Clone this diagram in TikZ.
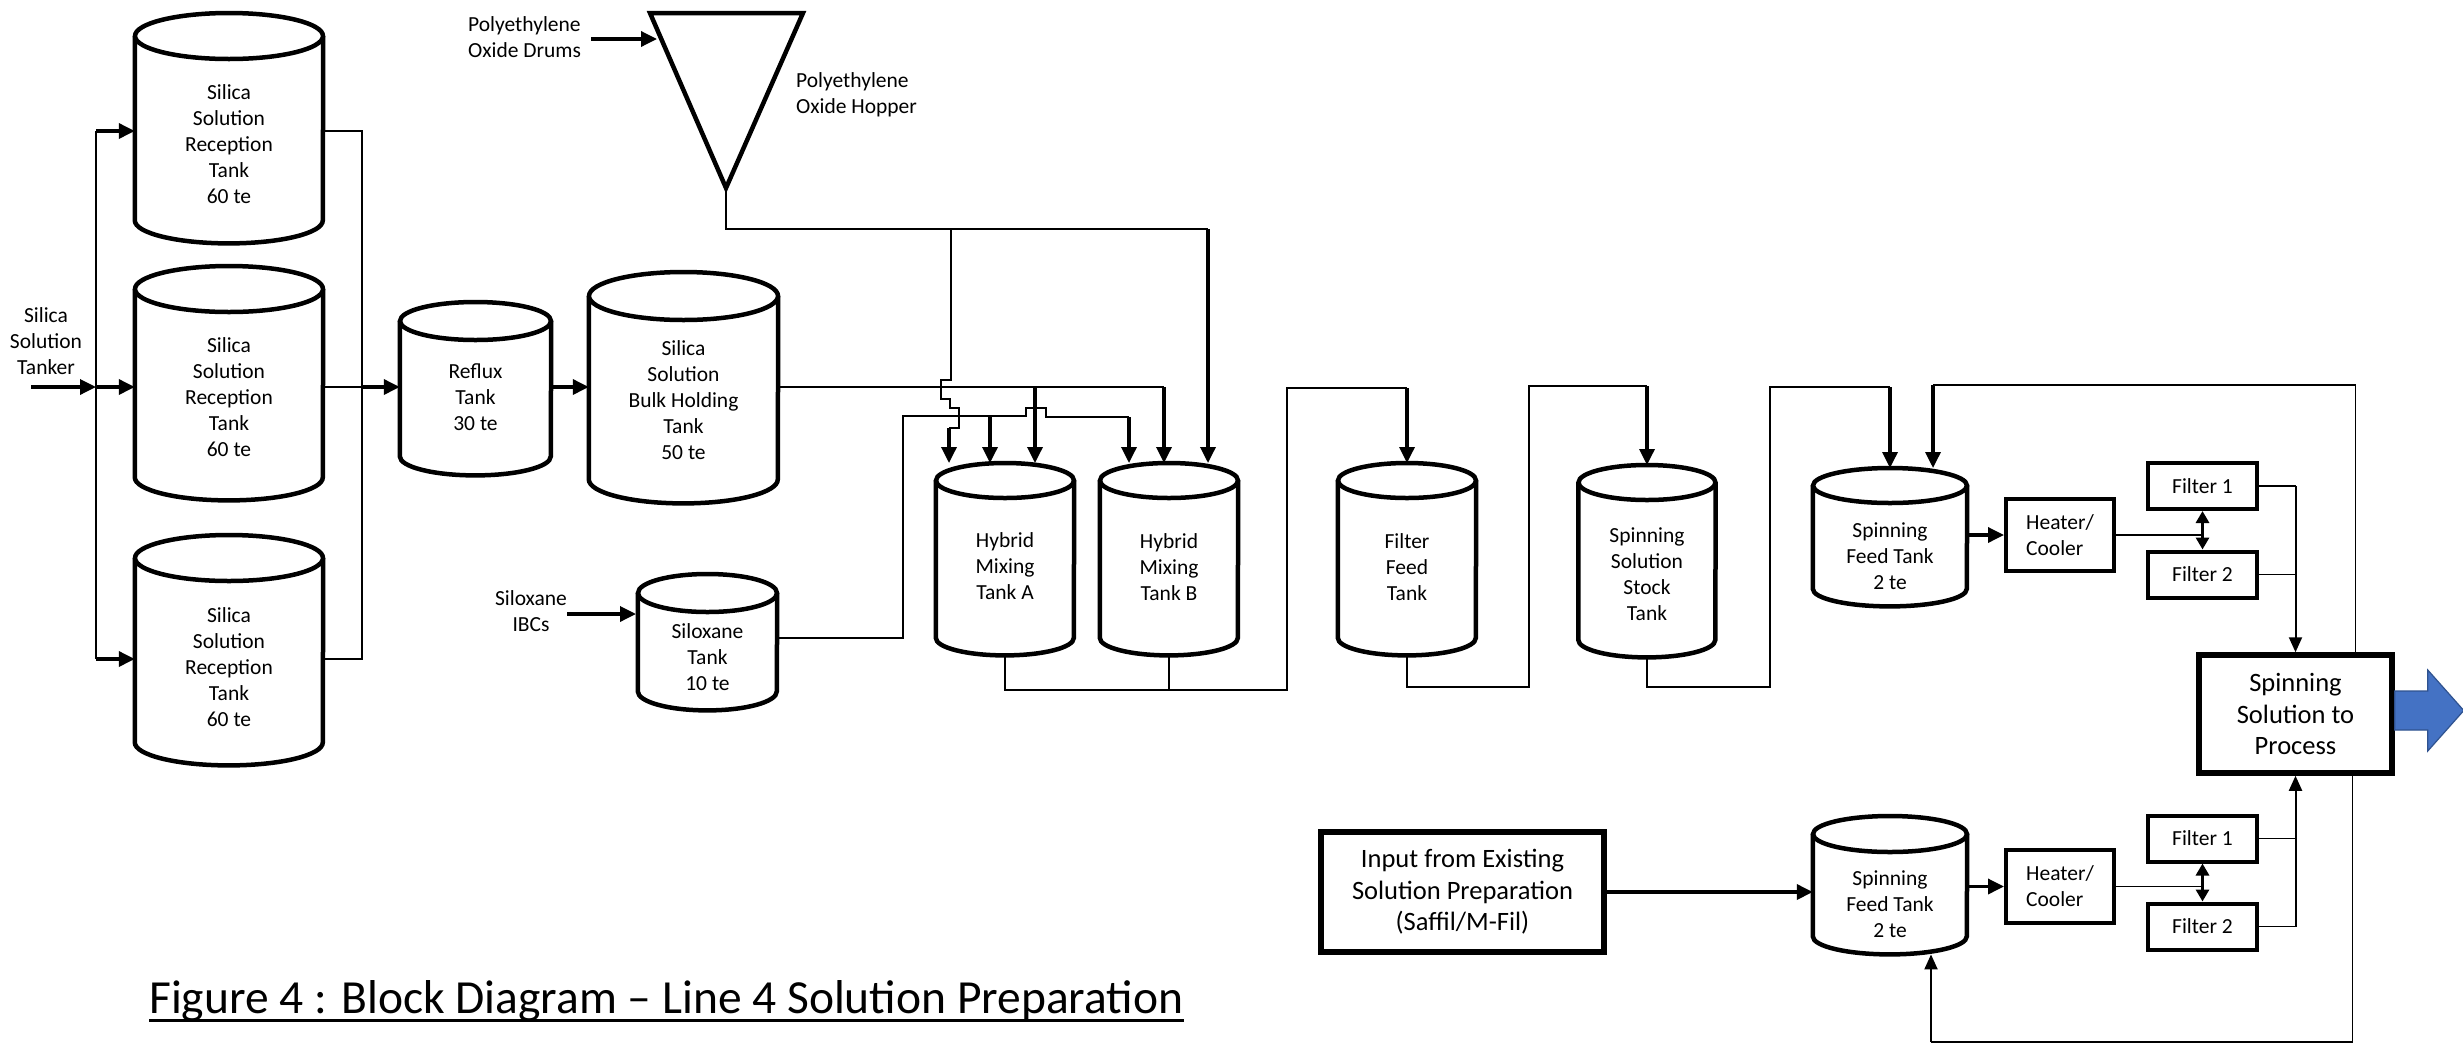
\documentclass[tikz,border=0pt]{standalone}
\usepackage{fontspec}
\setmainfont{Carlito}
\usetikzlibrary{arrows.meta,calc}
\definecolor{arrowblue}{HTML}{4472C4}
\definecolor{arrowedge}{HTML}{2F528F}
\tikzset{
  tk/.style={line width=4.5pt, fill=white},
  pipe/.style={line width=1.6pt},
  feed/.style={line width=3.4pt, -{Triangle[length=16pt,width=15pt]}},
  thinarrow/.style={line width=2pt, -{Triangle[length=15pt,width=13pt]}},
  dbl/.style={line width=3pt, {Triangle[length=12pt,width=13pt]}-{Triangle[length=12pt,width=13pt]}},
  lbl/.style={font=\fontsize{21.5}{26}\selectfont, align=center, inner sep=0pt},
  unitbox/.style={draw, line width=4pt, inner sep=0pt, font=\fontsize{21.5}{26}\selectfont, align=center, fill=white},
  bigbox/.style={draw, line width=5.5pt, inner sep=0pt, font=\fontsize{26.5}{31.5}\selectfont, align=center, fill=white}
}
% #1 name #2 cx #3 top #4 bottom #5 width #6 ry #7 text y #8 text
\newcommand\drawtank[8]{%
  \node[inner sep=0pt, minimum width=#5pt, minimum height={(#4-#3)*1pt}, anchor=north] (#1) at (#2,#3) {};
  \draw[tk] ([yshift=-#6pt]#1.north west) -- ([yshift=#6pt]#1.south west)
     arc[start angle=180, end angle=360, x radius={#5/2*1pt}, y radius=#6pt]
     -- ([yshift=-#6pt]#1.north east);
  \draw[tk] ([yshift=-#6pt]#1.north) ellipse[x radius={#5/2*1pt}, y radius=#6pt];
  \node[lbl] (#1-txt) at (#2,#7) {#8};
}
\begin{document}
\begin{tikzpicture}[x=1pt,y=-1pt]
\useasboundingbox (0,0) rectangle (2463,1045);
\fill[white] (0,0) rectangle (2463,1045);

% ---------------- tanks ----------------
\drawtank{t1}{229}{13}{243}{188}{23}{144}{Silica\\Solution\\Reception\\Tank\\60 te}
\drawtank{t2}{229}{266}{500}{188}{23}{397}{Silica\\Solution\\Reception\\Tank\\60 te}
\drawtank{t3}{229}{535}{765}{188}{23}{667}{Silica\\Solution\\Reception\\Tank\\60 te}
\drawtank{reflux}{475.5}{302}{475}{151}{19}{397}{Reflux\\Tank\\30 te}
\drawtank{bulk}{683.5}{272}{503}{189}{24}{400}{Silica\\Solution\\Bulk Holding\\Tank\\50 te}
\drawtank{silox}{707.5}{574}{710}{139}{19}{657}{Siloxane\\Tank\\10 te}
\drawtank{hmA}{1005}{463}{655}{138}{17.5}{566}{Hybrid\\Mixing\\Tank A}
\drawtank{hmB}{1169}{463}{655}{138}{17.5}{567}{Hybrid\\Mixing\\Tank B}
\drawtank{ff}{1407}{463}{655}{138}{17.5}{567}{Filter\\Feed\\Tank}
\drawtank{stock}{1647}{465}{657}{137}{17.5}{574}{Spinning\\Solution\\Stock\\Tank}
\drawtank{sf1}{1890}{468}{606}{154}{17.5}{556}{Spinning\\Feed Tank\\2 te}
\drawtank{sf2}{1890}{816}{954}{154}{18}{904}{Spinning\\Feed Tank\\2 te}

% ---------------- hopper ----------------
\coordinate (hopTL) at (650,13);
\coordinate (hopTR) at (803,13);
\coordinate (hopTip) at (726,188);
\draw[tk] (hopTL) -- (hopTR) -- (hopTip) -- cycle;

% ---------------- boxes ----------------
\node[unitbox, align=left, minimum width=108pt, minimum height=72pt] (heat1) at (2060,535) {Heater/\\Cooler};
\node[unitbox, minimum width=109pt, minimum height=46pt] (f1a) at (2202.5,486) {Filter 1};
\node[unitbox, minimum width=109pt, minimum height=46pt] (f2a) at (2202.5,574.5) {Filter 2};
\node[unitbox, align=left, minimum width=108pt, minimum height=73pt] (heat2) at (2060,886.5) {Heater/\\Cooler};
\node[unitbox, minimum width=109pt, minimum height=46pt] (f1b) at (2202.5,838.5) {Filter 1};
\node[unitbox, minimum width=109pt, minimum height=46pt] (f2b) at (2202.5,926.5) {Filter 2};
\node[bigbox, minimum width=193pt, minimum height=118pt] (out) at (2295.5,714) {Spinning\\Solution to\\Process};
\node[bigbox, minimum width=283pt, minimum height=120pt] (inp) at (1462.5,892) {Input from Existing\\Solution Preparation\\(Saffil/M-Fil)};

% ---------------- labels ----------------
\node[lbl] (tanker) at (46,341) {Silica\\Solution\\Tanker};
\node[lbl, align=left, anchor=west] (drums) at (468,37) {Polyethylene\\Oxide Drums};
\node[lbl, align=left, anchor=west] (hoplbl) at (796,95) {Polyethylene\\Oxide Hopper};
\node[lbl] (ibc) at (531,611) {Siloxane\\IBCs};

% ---------------- left feed ----------------
\coordinate (tankerin) at (31,387);
\coordinate (busT) at (96,131);
\coordinate (busM) at (96,387);
\coordinate (busB) at (96,659);
\draw[pipe] (busT) -- (busB);
\draw[feed] (tankerin) -- (busM);
\draw[feed] (busT) -- (busT -| t1.west);
\draw[feed] (busM) -- (busM -| t2.west);
\draw[feed] (busB) -- (busB -| t3.west);

\coordinate (colT) at (362,131);
\coordinate (colM) at (362,387);
\coordinate (colB) at (362,659);
\draw[pipe] (colT -| t1.east) -- (colT) -- (colB) -- (colB -| t3.east);
\draw[pipe] (colM -| t2.east) -- (colM);
\draw[feed] (colM) -- (colM -| reflux.west);
\draw[feed] (colM -| reflux.east) -- (colM -| bulk.west);

% ---------------- PEO ----------------
\coordinate (hopin) at (657,39);
\draw[feed] ($(hopin -| drums.east)+(10,0)$) -- (hopin);
\coordinate (peoB) at (1208,229);
\coordinate (peoJ) at (951,229);
\coordinate (peoA) at (949,428);
\draw[pipe] (hopTip) |- (peoB);
\draw[feed] (peoB) -- (peoB |- hmB.north);
\draw[pipe] (peoJ) -- (951,380) -- (941,380) -- (941,399) -- (950,399) -- (950,408)
   -- (959,408) -- (959,428) -- (peoA);
\draw[feed] (peoA) -- (peoA |- hmA.north);

% ---------------- bulk silica ----------------
\coordinate (bulkB) at (1164,387);
\coordinate (bulkA) at (1035,387);
\draw[pipe] (bulkB -| bulk.east) -- (bulkB);
\draw[feed] (bulkB) -- (bulkB |- hmB.north);
\draw[feed] (bulkA) -- (bulkA |- hmA.north);

% ---------------- siloxane ----------------
\coordinate (ibcin) at (636,614);
\draw[feed] (ibcin -| ibc.east) -- (ibcin);
\coordinate (silB) at (1129,417);
\coordinate (silA) at (990,416);
\draw[pipe] (silox.east |- 0,638) -- (903,638) -- (903,416) -- (1026,416) -- (1026,408)
   -- (1046,408) -- (1046,417) -- (silB);
\draw[feed] (silB) -- (silB |- hmB.north);
\draw[feed] (silA) -- (silA |- hmA.north);

% ---------------- mixing -> filter feed -> stock -> feed tank ----------------
\draw[pipe] (hmA.south) -- (hmA.south |- 0,690) -- (1287,690) -- (1287,388) -- (ff.north |- 0,388);
\draw[pipe] (hmB.south) -- (hmB.south |- 0,690);
\draw[feed] (ff.north |- 0,388) -- (ff.north);

\draw[pipe] (ff.south) -- (ff.south |- 0,687) -- (1529,687) -- (1529,386) -- (stock.north |- 0,386);
\draw[feed] (stock.north |- 0,386) -- (stock.north);

\draw[pipe] (stock.south) -- (stock.south |- 0,687) -- (1770,687) -- (1770,387) -- (sf1.north |- 0,387);
\draw[feed] (sf1.north |- 0,387) -- (sf1.north);

% ---------------- upper train ----------------
\coordinate (rec1) at (1933,385);
\draw[pipe] ([xshift=60pt]out.north) |- (rec1);
\draw[feed] (rec1) -- ([xshift=43pt]sf1.north);
\draw[feed] (sf1.east |- heat1.west) -- (heat1.west);
\draw[pipe] (heat1.east) -- (heat1.east -| f1a.south);
\draw[dbl] (f1a.south) -- (f2a.north);
\draw[pipe] (f1a.east) -- (f1a.east -| out.north);
\draw[pipe] (f2a.east) -- (f2a.east -| out.north);
\draw[thinarrow] (f1a.east -| out.north) -- (out.north);

% ---------------- lower train ----------------
\draw[feed] (inp.east) -- (inp.east -| sf2.west);
\draw[feed] (sf2.east |- heat2.west) -- (heat2.west);
\draw[pipe] (heat2.east) -- (heat2.east -| f1b.south);
\draw[dbl] (f1b.south) -- (f2b.north);
\draw[pipe] (f1b.east) -- (f1b.east -| out.south);
\draw[pipe] (f2b.east) -- (f2b.east -| out.south);
\draw[thinarrow] (f2b.east -| out.south) -- (out.south);
\coordinate (rec2) at (1931,1042);
\draw[pipe] ([xshift=57pt]out.south) |- (rec2);
\draw[thinarrow] (rec2) -- ([xshift=41pt]sf2.south);

% ---------------- output arrow ----------------
\coordinate (bb) at ([yshift=3.5pt]out.east);
\draw[fill=arrowblue, draw=arrowedge, line width=1.2pt]
  (bb) ++(0,-19.5) -- ++(33,0) -- ++(0,-21) -- ++(36,40.5) -- ++(-36,40.5) -- ++(0,-21) -- ++(-33,0) -- cycle;

% ---------------- caption ----------------
\node[anchor=base west, inner sep=0pt, font=\fontsize{47.5}{57}\selectfont] (cap) at (149,1013)
  {Figure 4 : Block Diagram – Line 4 Solution Preparation};
\draw[line width=3pt] ([yshift=-7pt]cap.base west) -- ([yshift=-7pt]cap.base east);
\end{tikzpicture}
\end{document}
